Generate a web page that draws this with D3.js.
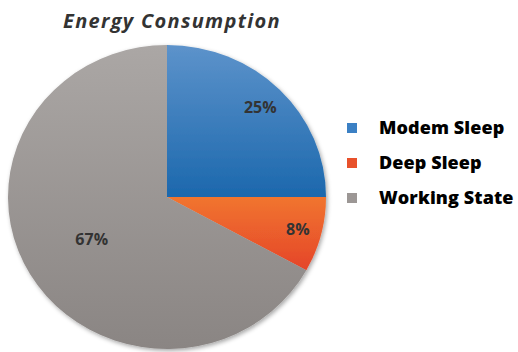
<!DOCTYPE html>
<html>
<head>
<meta charset="utf-8">
<script src="https://cdn.jsdelivr.net/npm/d3@7"></script>
<style>
  html, body { margin: 0; padding: 0; background: #ffffff; }
  svg { display: block; }
</style>
</head>
<body>
<svg id="chart" width="518" height="352"></svg>
<script>
// Share of energy by device state
const categories = ["Modem Sleep", "Deep Sleep", "Working State"];
const shares = [25, 8, 67];
const labels = ["25%", "8%", "67%"];

const gradStops = [
  ["#5d93cb", "#1c68ad"],
  ["#f1752f", "#e4432a"],
  ["#aba7a5", "#8a8583"]
];
const swatchColors = ["#3b80c4", "#e8512b", "#9c9795"];

const svg = d3.select("#chart");
const defs = svg.append("defs");

gradStops.forEach((s, i) => {
  const g = defs.append("linearGradient")
    .attr("id", "grad" + i)
    .attr("gradientUnits", "userSpaceOnUse")
    .attr("x1", 0).attr("y1", -160).attr("x2", 0).attr("y2", 160);
  if (i === 0) g.attr("y1", -160).attr("y2", 0);
  if (i === 1) g.attr("y1", 0).attr("y2", 80);
  g.append("stop").attr("offset", "0%").attr("stop-color", s[0]);
  g.append("stop").attr("offset", "100%").attr("stop-color", s[1]);
});

const shadow = defs.append("filter").attr("id", "shadow")
  .attr("x", "-10%").attr("y", "-10%").attr("width", "120%").attr("height", "120%");
shadow.append("feDropShadow")
  .attr("dx", 1.5).attr("dy", 2).attr("stdDeviation", 2)
  .attr("flood-color", "#000").attr("flood-opacity", 0.35);

// Title
svg.append("text")
  .attr("x", 63).attr("y", 28)
  .attr("font-family", "Open Sans, sans-serif")
  .attr("font-style", "italic")
  .attr("font-weight", "bold")
  .attr("font-size", 20)
  .attr("letter-spacing", 1.3)
  .attr("fill", "#333")
  .text("Energy Consumption");

// Pie (slightly flattened vertically)
const rx = 159, ry = 152;
const cx = 167, cy = 197;

const pie = d3.pie().sort(null).value(d => d);
const arcs = pie(shares);
const arc = d3.arc().innerRadius(0).outerRadius(rx);

const g = svg.append("g")
  .attr("transform", `translate(${cx},${cy}) scale(1,${ry / rx})`);

const slices = g.append("g").attr("filter", "url(#shadow)");
slices.selectAll("path")
  .data(arcs)
  .join("path")
  .attr("d", arc)
  .attr("fill", (d, i) => `url(#grad${i})`);

// Percentage labels, placed along each slice's bisector
const labelR = [0.83, 0.85, 0.55];
const labelPoint = (d, i) => {
  const r = rx * labelR[i];
  const c = d3.arc().innerRadius(r).outerRadius(r).centroid(d);
  return [cx + c[0], cy + c[1] * ry / rx];
};
svg.selectAll("text.pct")
  .data(arcs)
  .join("text")
  .attr("class", "pct")
  .attr("x", (d, i) => labelPoint(d, i)[0])
  .attr("y", (d, i) => labelPoint(d, i)[1])
  .attr("dy", "0.35em")
  .attr("text-anchor", "middle")
  .attr("font-family", "Open Sans, sans-serif")
  .attr("font-weight", "bold")
  .attr("font-size", 16)
  .attr("fill", "#333")
  .text((d, i) => labels[i]);

// Legend
const legend = svg.append("g").attr("transform", "translate(347,128)");
const item = legend.selectAll("g")
  .data(categories)
  .join("g")
  .attr("transform", (d, i) => `translate(0,${i * 35})`);
item.append("rect")
  .attr("x", 0).attr("y", -5)
  .attr("width", 10).attr("height", 10)
  .attr("fill", (d, i) => swatchColors[i]);
item.append("text")
  .attr("x", 32).attr("y", 0)
  .attr("dy", "0.35em")
  .attr("font-family", "Open Sans, sans-serif")
  .attr("font-weight", 800)
  .attr("font-size", 18)
  .attr("letter-spacing", 0.1)
  .attr("fill", "#000")
  .text(d => d);
</script>
</body>
</html>
